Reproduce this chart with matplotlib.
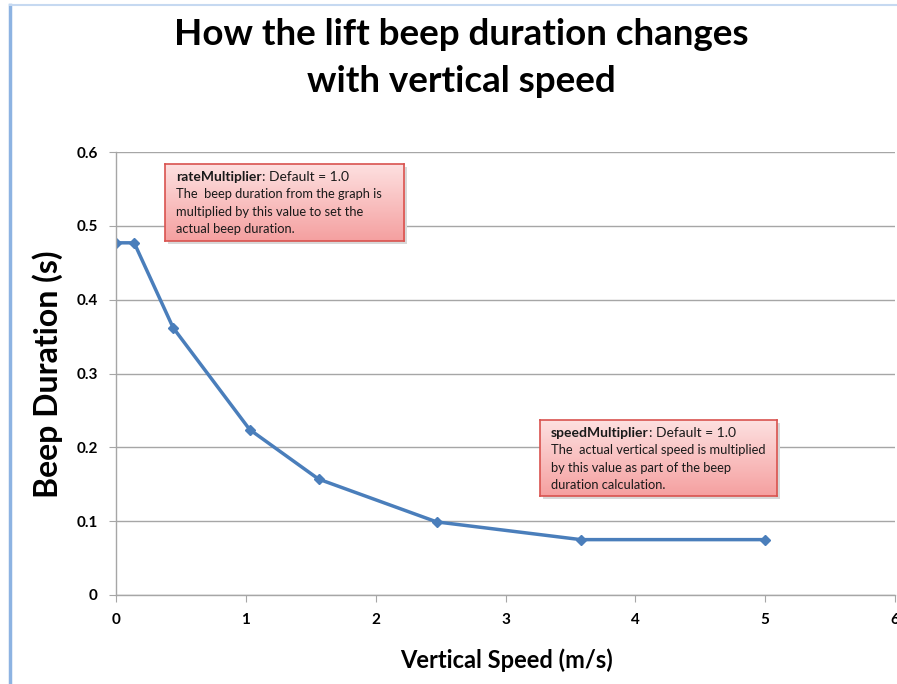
import matplotlib
matplotlib.use("Agg")
import matplotlib.pyplot as plt
import numpy as np
from matplotlib.colors import LinearSegmentedColormap

speed = [0.0, 0.14, 0.44, 1.03, 1.56, 2.47, 3.58, 5.0]
duration = [0.477, 0.477, 0.362, 0.224, 0.157, 0.099, 0.075, 0.075]
x_ticks = [0, 1, 2, 3, 4, 5, 6]
y_ticks = [0, 0.1, 0.2, 0.3, 0.4, 0.5, 0.6]
title = "How the lift beep duration changes\nwith vertical speed"
xlabel = "Vertical Speed (m/s)"
ylabel = "Beep Duration (s)"
notes = [
    ("rateMultiplier", ": Default = 1.0",
     "The  beep duration from the graph is\nmultiplied by this value to set the\nactual beep duration."),
    ("speedMultiplier", ": Default = 1.0",
     "The  actual vertical speed is multiplied\nby this value as part of the beep\nduration calculation."),
]

plt.rcParams['font.family'] = ['Lato', 'DejaVu Sans']
W, H = 897, 684
fig = plt.figure(figsize=(W / 100, H / 100), dpi=100)

def fx(px):
    return px / W

def fy(py):
    return 1 - py / H

# slide borders
fig.add_artist(plt.Line2D([fx(10), fx(10)], [0, fy(5)], color='#8db3e2', lw=2.5))
fig.add_artist(plt.Line2D([fx(10), 1], [fy(5), fy(5)], color='#c6d9f1', lw=1.5))

ax = fig.add_axes([fx(116), fy(595), fx(895) - fx(116), fy(152) - fy(595)])
ax.plot(speed, duration, color='#4a7ebb', lw=2.5, marker='D', markersize=5,
        markerfacecolor='#4a7ebb', markeredgecolor='#4a7ebb')
ax.set_xlim(0, 6)
ax.set_ylim(0, 0.6)
ax.set_xticks(x_ticks)
ax.set_yticks(y_ticks)
ax.set_xticklabels([str(t) for t in x_ticks], fontsize=11, fontweight='bold')
ax.set_yticklabels([f"{t:g}" for t in y_ticks], fontsize=11, fontweight='bold')
ax.grid(axis='y', color='#a6a6a6', lw=1)
ax.set_axisbelow(True)
for s in ['top', 'right']:
    ax.spines[s].set_visible(False)
for s in ['left', 'bottom']:
    ax.spines[s].set_color('#a6a6a6')
    ax.spines[s].set_linewidth(1)
ax.tick_params(axis='both', direction='out', length=5, color='#a6a6a6', pad=8)
ax.set_facecolor('white')

fig.text(fx(461), fy(58), title, ha='center', va='center', fontsize=26.5,
         fontweight='bold', linespacing=1.5)
fig.text(fx(507), fy(660), xlabel, ha='center', va='center', fontsize=17, fontweight='bold')
fig.text(fx(48), fy(374), ylabel, ha='center', va='center', fontsize=23,
         fontweight='bold', rotation=90)

boxes = [(165, 164, 404, 241), (540, 420, 777, 496)]
grad = np.linspace(0, 1, 100).reshape(-1, 1)
cmap = LinearSegmentedColormap.from_list('pk', ['#fde0e0', '#f5a0a0'])
fig.canvas.draw()
renderer = fig.canvas.get_renderer()
for (x0, y0, x1, y1), (bold, rest, body) in zip(boxes, notes):
    sh = fig.add_axes([fx(x0 + 3), fy(y1 + 3), fx(x1) - fx(x0), fy(y0) - fy(y1)])
    sh.set_facecolor('#d8d8d8')
    sh.set_xticks([]); sh.set_yticks([])
    for s in sh.spines.values():
        s.set_visible(False)
    bax = fig.add_axes([fx(x0), fy(y1), fx(x1) - fx(x0), fy(y0) - fy(y1)])
    bax.imshow(grad, aspect='auto', cmap=cmap, extent=[0, 1, 0, 1], origin='upper')
    bax.set_xlim(0, 1); bax.set_ylim(0, 1)
    bax.set_xticks([]); bax.set_yticks([])
    for s in bax.spines.values():
        s.set_color('#d9534f')
        s.set_linewidth(1.2)
    t1 = fig.text(fx(x0 + 11), fy(y0 + 13), bold, fontsize=10, fontweight='bold',
                  va='center', ha='left', color='#1a1a1a')
    bb = t1.get_window_extent(renderer)
    fig.text(bb.x1 / W, fy(y0 + 13), rest, fontsize=10, va='center', ha='left', color='#1a1a1a')
    fig.text(fx(x0 + 11), fy(y0 + 24), body, fontsize=9.3, va='top', ha='left',
             linespacing=1.55, color='#1a1a1a')

fig.savefig('out.png', dpi=100)
